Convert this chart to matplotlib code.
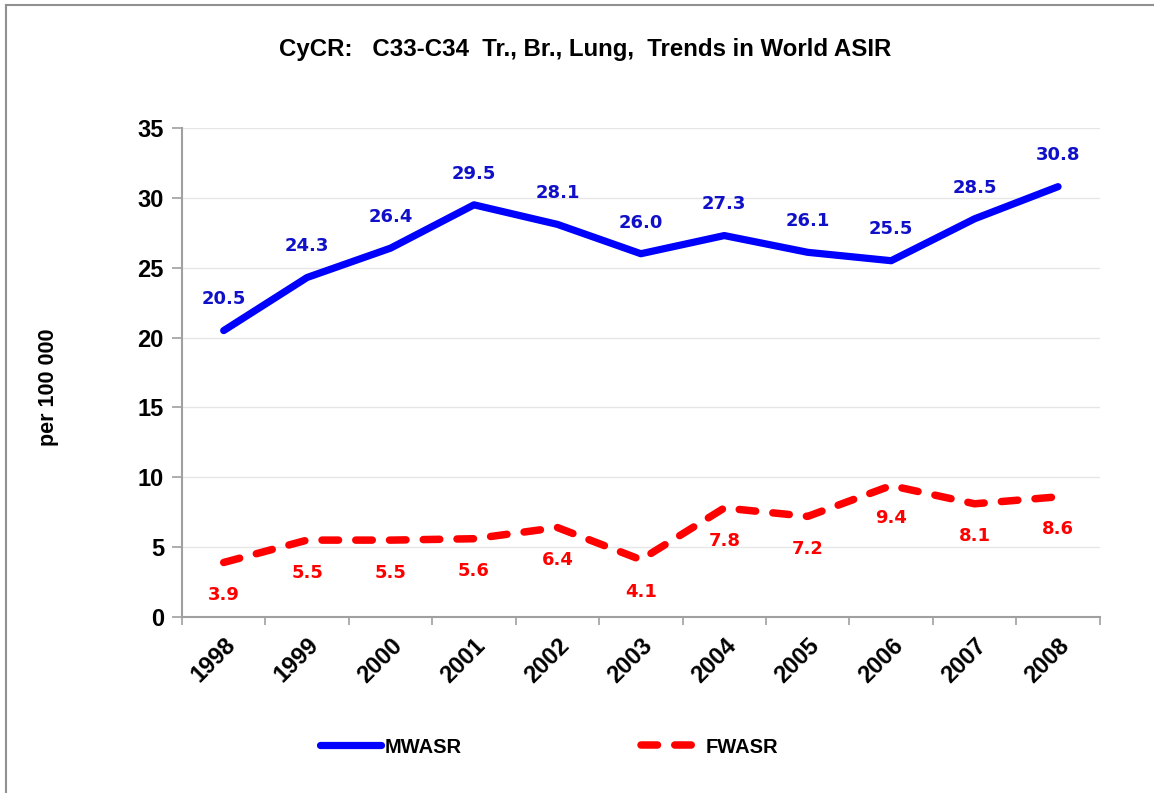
import matplotlib
matplotlib.use("Agg")
import matplotlib.pyplot as plt
from matplotlib import font_manager
from matplotlib.lines import Line2D

# data
years = ["1998", "1999", "2000", "2001", "2002", "2003", "2004", "2005", "2006", "2007", "2008"]
mwasr = [20.5, 24.3, 26.4, 29.5, 28.1, 26.0, 27.3, 26.1, 25.5, 28.5, 30.8]
fwasr = [3.9, 5.5, 5.5, 5.6, 6.4, 4.1, 7.8, 7.2, 9.4, 8.1, 8.6]
y_ticks = [0, 5, 10, 15, 20, 25, 30, 35]

# narrow font in place of Calibri, if there is one
installed = {f.name for f in font_manager.fontManager.ttflist}
narrow = "Liberation Sans Narrow" if "Liberation Sans Narrow" in installed else "Liberation Sans"
TXT_FONT = [narrow, "DejaVu Sans"]
LBL_FONT = ["DejaVu Sans"]
BLUE = "#0000ff"
RED = "#ff0000"
AXIS_GREY = "#a0a0a0"

fig = plt.figure(figsize=(11.54, 7.93), dpi=100)
ax = fig.add_axes([0.1577, 0.222, 0.7953, 0.6166])

x = list(range(len(years)))
ax.plot(x, mwasr, color=BLUE, lw=5.2, solid_capstyle="round", solid_joinstyle="round", label="MWASR", zorder=3)
ax.plot(x, fwasr, color=RED, lw=5.4, dashes=(2.2, 2.3), dash_capstyle="round", label="FWASR", zorder=3)

# data labels: blue above, red below
for xi, v in zip(x, mwasr):
    ax.annotate(f"{v:.1f}", (xi, v), xytext=(0, 16), textcoords="offset points",
                ha="center", va="bottom", color="#1010c8", fontsize=13,
                fontweight="bold", family=LBL_FONT)
for xi, v in zip(x, fwasr):
    ax.annotate(f"{v:.1f}", (xi, v), xytext=(0, -17), textcoords="offset points",
                ha="center", va="top", color=RED, fontsize=13,
                fontweight="bold", family=LBL_FONT)

ax.set_xlim(-0.5, len(years) - 0.5)
ax.set_ylim(0, 35)
ax.set_yticks(y_ticks)
ax.set_yticklabels([str(t) for t in y_ticks], fontsize=17, fontweight="bold", family=TXT_FONT)
ax.set_xticks(x)
ax.set_xticklabels(years, rotation=45, ha="right", va="top", rotation_mode="anchor",
                   fontsize=17, fontweight="bold", family=TXT_FONT)
ax.tick_params(axis="x", which="major", length=0, pad=12)
# category boundary ticks like Excel
ax.set_xticks([i - 0.5 for i in range(len(years) + 1)], minor=True)
ax.tick_params(axis="x", which="minor", length=6, color=AXIS_GREY, width=1.2)
ax.tick_params(axis="y", length=7, color=AXIS_GREY, width=1.2, pad=6)

ax.grid(axis="y", color="#e6e6e6", lw=1)
ax.set_axisbelow(True)
for s in ["top", "right"]:
    ax.spines[s].set_visible(False)
for s in ["left", "bottom"]:
    ax.spines[s].set_color(AXIS_GREY)
    ax.spines[s].set_linewidth(1.5)

ax.set_ylabel("per 100 000", fontsize=15.5, fontweight="bold", family=TXT_FONT, labelpad=0)
ax.yaxis.set_label_coords(-0.134, 0.47)

fig.text(0.507, 0.938, "CyCR:   C33-C34  Tr., Br., Lung,  Trends in World ASIR",
         ha="center", va="center", fontsize=17.3, fontweight="bold", family=TXT_FONT)

leg = fig.legend(loc="center", bbox_to_anchor=(0.476, 0.058), ncol=2, frameon=False,
                 handlelength=3.0, columnspacing=8.9, handletextpad=0.2,
                 prop={"family": TXT_FONT, "weight": "bold", "size": 14.5})

# outer chart frame (left and top edges visible)
fig.add_artist(Line2D([0.0055, 0.0055], [0.0, 0.9937], transform=fig.transFigure, color="#909090", lw=1.5))
fig.add_artist(Line2D([0.0055, 1.0], [0.9937, 0.9937], transform=fig.transFigure, color="#909090", lw=1.5))

fig.savefig("out.png", dpi=100)
